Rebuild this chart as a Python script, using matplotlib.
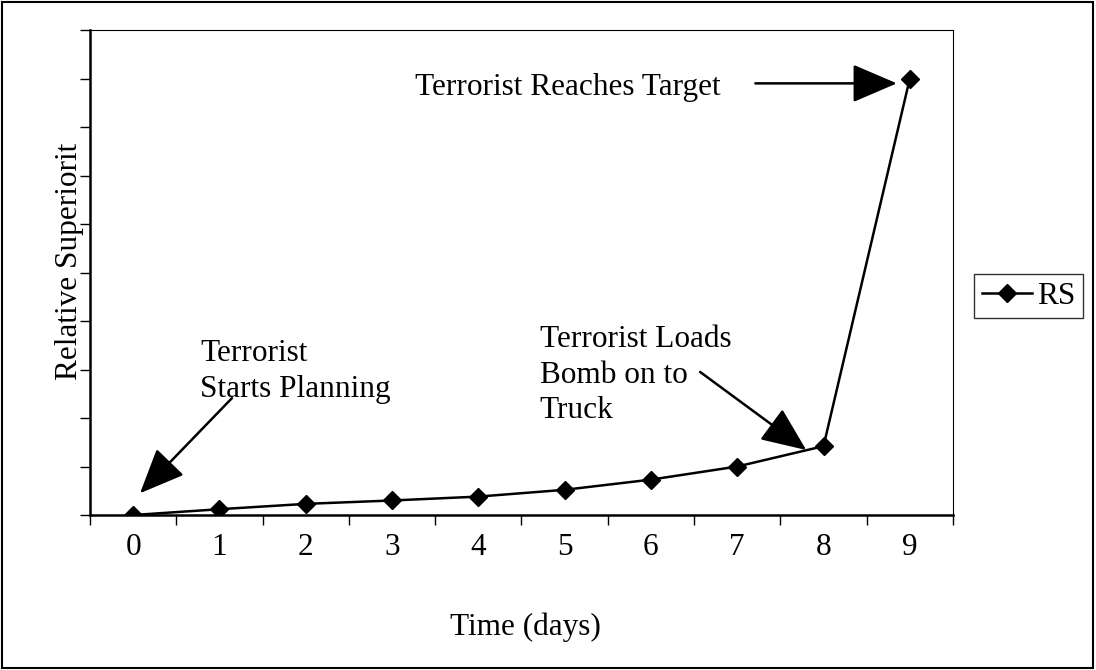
import numpy as np
import matplotlib.pyplot as plt
from matplotlib.patches import Rectangle

plt.rcParams['font.family'] = ['Liberation Serif', 'DejaVu Serif']

# data
days = [0, 1, 2, 3, 4, 5, 6, 7, 8, 9]
rs = [0, 0.12, 0.23, 0.30, 0.38, 0.52, 0.73, 1.0, 1.42, 9.0]
day_labels = [str(d) for d in days]

fig = plt.figure(figsize=(10.96, 6.70), dpi=100)
ax = fig.add_axes([0.0821, 0.2313, 0.7874, 0.7239])

ax.plot(days, rs, color='black', linewidth=1.8, marker='D', markersize=9,
        label='RS', zorder=3)

ax.set_xlim(-0.5, 9.5)
ax.set_ylim(0, 10)

fs = 22.5

# category axis: labels on categories, ticks between them
ax.set_xticks(days)
ax.set_xticklabels(day_labels, fontsize=fs)
ax.tick_params(axis='x', which='major', length=0, pad=13)
ax.set_xticks(np.arange(-0.5, 10, 1), minor=True)
ax.tick_params(axis='x', which='minor', length=7, width=1, direction='out')

ax.set_yticks(np.arange(0, 11, 1))
ax.set_yticklabels([])
ax.tick_params(axis='y', length=7, width=1, direction='out')

ax.spines['left'].set_linewidth(1.8)
ax.spines['bottom'].set_linewidth(1.8)
ax.spines['top'].set_linewidth(0.8)
ax.spines['right'].set_linewidth(0.8)
ax.spines['right'].set_linestyle((0, (4, 1)))

ax.text(0.775, 3.62, 'Terrorist\nStarts Planning', fontsize=fs, va='top', ha='left',
        linespacing=1.3)
ax.text(4.71, 3.92, 'Terrorist Loads\nBomb on to\nTruck', fontsize=fs, va='top', ha='left',
        linespacing=1.3)
ax.text(3.27, 8.82, 'Terrorist Reaches Target', fontsize=fs, va='center', ha='left')

arrow = dict(arrowstyle='-|>,head_length=1.4,head_width=0.6', color='black',
             linewidth=1.8, mutation_scale=20, shrinkA=0, shrinkB=0)
ax.annotate('', xy=(0.08, 0.45), xytext=(1.145, 2.41), arrowprops=arrow)
ax.annotate('', xy=(7.80, 1.34), xytext=(6.57, 2.95), arrowprops=arrow)
ax.annotate('', xy=(8.85, 8.9), xytext=(7.21, 8.9), arrowprops=arrow)

fig.text(0.063, 0.61, 'Relative Superiorit', rotation=90, fontsize=fs,
         ha='center', va='center')
fig.text(0.479, 0.064, 'Time (days)', fontsize=fs, ha='center', va='center')

leg = ax.legend(loc='center left', fontsize=fs, frameon=True,
                fancybox=False, edgecolor='black', handlelength=1.6,
                handletextpad=0.15, borderpad=0.25, borderaxespad=0)
leg.set_bbox_to_anchor((0.889, 0.558), transform=fig.transFigure)
leg.get_frame().set_linewidth(1.0)

fig.patches.append(Rectangle((0.002, 0.003), 0.995, 0.994, transform=fig.transFigure,
                             fill=False, edgecolor='black', linewidth=1.5))

fig.savefig('out.png', dpi=100)
